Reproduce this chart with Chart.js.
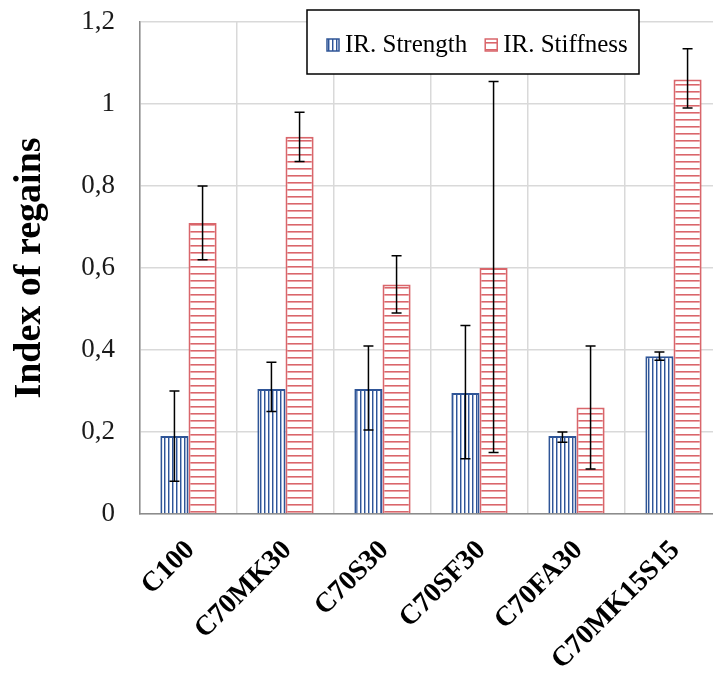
<!DOCTYPE html>
<html>
<head>
<meta charset="utf-8">
<script src="https://cdn.jsdelivr.net/npm/chart.js@4.4.1/dist/chart.umd.min.js"></script>
<style>
  html, body { margin: 0; padding: 0; background: #fff; overflow: hidden; }
  #wrap { width: 713px; height: 675px; overflow: hidden; }
</style>
</head>
<body>
<div id="wrap"><canvas id="chart" width="730" height="675"></canvas></div>
<script>
const categories = ['C100', 'C70MK30', 'C70S30', 'C70SF30', 'C70FA30', 'C70MK15S15'];
const seriesNames = ['IR. Strength', 'IR. Stiffness'];

const strength = [0.19, 0.305, 0.305, 0.295, 0.19, 0.385];
const strengthLow = [0.08, 0.25, 0.205, 0.135, 0.175, 0.375];
const strengthHigh = [0.30, 0.37, 0.41, 0.46, 0.20, 0.395];

const stiffness = [0.71, 0.92, 0.56, 0.60, 0.26, 1.06];
const stiffnessLow = [0.62, 0.86, 0.49, 0.15, 0.11, 0.99];
const stiffnessHigh = [0.80, 0.98, 0.63, 1.055, 0.41, 1.135];

const yMin = 0;
const yMax = 1.2;
const yStep = 0.2;

const SERIF = '"Liberation Serif", "Times New Roman", serif';

function makePattern(vertical) {
    const c = document.createElement('canvas');
    const x = c.getContext('2d');
    if (vertical) {
        c.width = 4; c.height = 4;
        x.fillStyle = '#ffffff'; x.fillRect(0, 0, 4, 4);
        x.fillStyle = '#2f5597'; x.fillRect(0, 0, 1, 4);
        x.fillStyle = '#9fb2d6'; x.fillRect(1, 0, 1, 4);
    } else {
        c.width = 7; c.height = 7;
        x.fillStyle = '#ffffff'; x.fillRect(0, 0, 7, 7);
        x.fillStyle = '#d9666b'; x.fillRect(0, 0, 7, 1);
        x.fillStyle = '#eba3a6'; x.fillRect(0, 1, 7, 1);
    }
    return x.createPattern(c, 'repeat');
}

const errors = [[strengthLow, strengthHigh], [stiffnessLow, stiffnessHigh]];

const errorBars = {
    id: 'errorBars',
    afterDatasetsDraw(chart) {
        const ctx = chart.ctx;
        const y = chart.scales.y;
        ctx.save();
        ctx.strokeStyle = '#000';
        ctx.lineWidth = 1.5;
        chart.data.datasets.forEach((ds, i) => {
            const meta = chart.getDatasetMeta(i);
            const [lo, hi] = errors[i];
            meta.data.forEach((bar, j) => {
                const yl = y.getPixelForValue(lo[j]);
                const yh = y.getPixelForValue(hi[j]);
                ctx.beginPath();
                ctx.moveTo(bar.x, yl); ctx.lineTo(bar.x, yh);
                ctx.moveTo(bar.x - 5, yl); ctx.lineTo(bar.x + 5, yl);
                ctx.moveTo(bar.x - 5, yh); ctx.lineTo(bar.x + 5, yh);
                ctx.stroke();
            });
        });
        ctx.restore();
    }
};

// legend box drawn inside the plot, Excel style
const boxLegend = {
    id: 'boxLegend',
    afterDraw(chart) {
        const ctx = chart.ctx;
        const area = chart.chartArea;
        const left = area.left + 167, top = 10, w = 332, h = 64;
        ctx.save();
        ctx.fillStyle = '#fff';
        ctx.fillRect(left, top, w, h);
        ctx.strokeStyle = '#000';
        ctx.lineWidth = 1.5;
        ctx.strokeRect(left, top, w, h);
        ctx.font = '25px ' + SERIF;
        ctx.textBaseline = 'middle';
        let x = left + 20;
        const cy = top + 35;
        chart.data.datasets.forEach((ds) => {
            ctx.fillStyle = ds.backgroundColor;
            ctx.fillRect(x, cy - 6, 12, 12);
            ctx.strokeStyle = ds.borderColor;
            ctx.lineWidth = 1.5;
            ctx.strokeRect(x, cy - 6, 12, 12);
            ctx.fillStyle = '#000';
            ctx.fillText(ds.label, x + 18, cy);
            x += 18 + ctx.measureText(ds.label).width + 18;
        });
        ctx.restore();
    }
};

new Chart(document.getElementById('chart'), {
    type: 'bar',
    data: {
        labels: categories,
        datasets: [{
            label: seriesNames[0],
            data: strength,
            backgroundColor: makePattern(true),
            borderColor: '#2f5597',
            borderWidth: 2
        }, {
            label: seriesNames[1],
            data: stiffness,
            backgroundColor: makePattern(false),
            borderColor: '#d9666b',
            borderWidth: 2
        }]
    },
    options: {
        responsive: false,
        animation: false,
        layout: { padding: { top: 22, right: 8, bottom: 0, left: 0 } },
        datasets: { bar: { categoryPercentage: 0.58, barPercentage: 1.0 } },
        plugins: {
            legend: { display: false },
            tooltip: { enabled: false }
        },
        scales: {
            x: {
                grid: { color: '#d9d9d9', lineWidth: 1.5, drawTicks: false },
                border: { color: '#8c8c8c', width: 1.5 },
                ticks: {
                    font: { family: SERIF, size: 28, weight: 'bold' },
                    color: '#000',
                    minRotation: 45,
                    maxRotation: 45,
                    autoSkip: false,
                    labelOffset: 2,
                    padding: 20
                },
                afterFit: (scale) => { scale.height = 161; }
            },
            y: {
                min: yMin,
                max: yMax,
                grid: {
                    color: '#d9d9d9', lineWidth: 1.5,
                    drawTicks: true, tickLength: 21, tickColor: 'rgba(0,0,0,0)'
                },
                border: { color: '#8c8c8c', width: 1.5 },
                ticks: {
                    stepSize: yStep,
                    font: { family: SERIF, size: 27 },
                    color: '#1a1a1a',
                    padding: 4,
                    callback: (v) => String(Number(v.toFixed(1))).replace('.', ',')
                },
                title: {
                    display: true,
                    text: 'Index of regains',
                    font: { family: SERIF, size: 38, weight: 'bold' },
                    color: '#000',
                    padding: { top: 7, bottom: 0 }
                },
                afterFit: (scale) => { scale.width = 140; }
            }
        }
    },
    plugins: [errorBars, boxLegend]
});
</script>
</body>
</html>
